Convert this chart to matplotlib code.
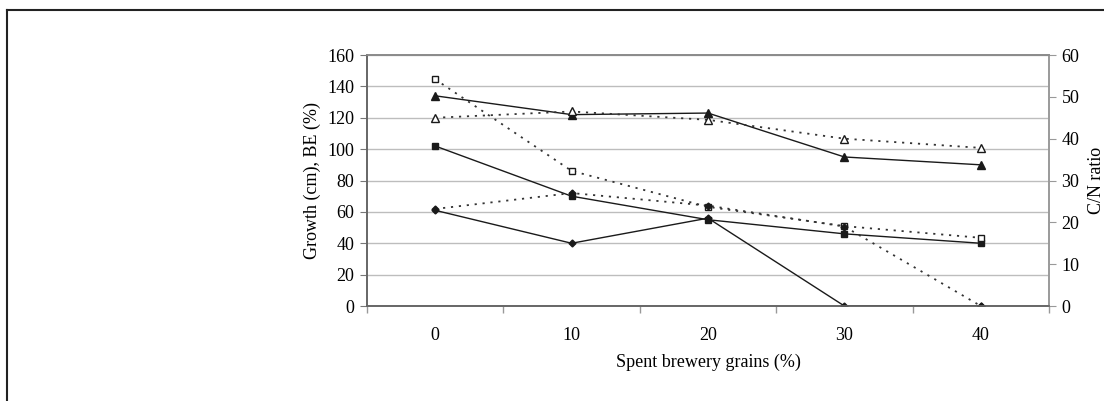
#!/usr/bin/env python3
"""Growth, BE and C/N ratio against spent brewery grains content."""

import matplotlib
matplotlib.use("Agg")
import matplotlib.pyplot as plt
from matplotlib.lines import Line2D
from matplotlib.ticker import FixedLocator, NullFormatter

plt.rcParams["font.family"] = ["Liberation Serif", "DejaVu Serif"]

grains = ["0", "10", "20", "30", "40"]

# left axis: growth (cm) and BE (%)
growth_tri = [134, 122, 123, 95, 90]
growth_sq = [102, 70, 55, 46, 40]
growth_dia = [61, 40, 56, 0, 0]

# right axis: C/N ratio
cn_tri = [45.0, 46.5, 44.5, 40.0, 37.8]
cn_sq = [54.2, 32.3, 23.7, 19.1, 16.3]
cn_dia = [23.2, 27.0, 24.0, 19.0, 0.0]

x = list(range(len(grains)))

fig = plt.figure(figsize=(11.04, 4.01), dpi=100)
ax = fig.add_axes([0.3324, 0.2369, 0.6178, 0.6259])
ax2 = ax.twinx()

grid_c = "#bdbdbd"
line_c = "#1a1a1a"
dots = (0, (1.2, 3.2))
fs = 13

ax.set_ylim(0, 160)
ax.set_yticks(range(0, 161, 20))
ax.yaxis.grid(True, color=grid_c, lw=1)
ax.set_axisbelow(True)
ax.set_xlim(-0.5, 4.5)
ax.set_xticks(x)
ax.set_xticklabels(grains)
ax.xaxis.set_minor_locator(FixedLocator([i - 0.5 for i in range(6)]))
ax.xaxis.set_minor_formatter(NullFormatter())
ax.tick_params(axis="x", which="major", length=0, pad=15, labelsize=fs)
ax.tick_params(axis="x", which="minor", length=5, color="#999999", width=1)
ax.tick_params(axis="y", length=5, color="#777777", labelsize=fs, pad=4)

ax2.set_ylim(0, 60)
ax2.set_yticks(range(0, 61, 10))
ax2.tick_params(axis="y", length=5, color="#999999", labelsize=fs, pad=4)

for a in (ax, ax2):
    a.spines["top"].set_color("#8a8a8a")
    a.spines["right"].set_color("#9a9a9a")
    a.spines["left"].set_color("#666666")
    a.spines["bottom"].set_color("#666666")
    for s in a.spines.values():
        s.set_linewidth(1.2)

ax.plot(x, growth_tri, color=line_c, lw=1, marker="^", ms=5.5, mfc=line_c, mec=line_c, zorder=3)
ax.plot(x, growth_sq, color=line_c, lw=1, marker="s", ms=5, mfc=line_c, mec=line_c, zorder=3)
ax.plot(x, growth_dia, color=line_c, lw=1, marker="D", ms=3.5, mfc=line_c, mec=line_c, zorder=3)

ax2.plot(x, cn_tri, color="#333333", lw=1.3, ls=dots, marker="^", ms=5.5, mfc="white", mec=line_c, mew=1)
ax2.plot(x, cn_sq, color="#333333", lw=1.3, ls=dots, marker="s", ms=5, mfc="white", mec=line_c, mew=1)
ax2.plot(x, cn_dia, color="#333333", lw=1.3, ls=dots, marker="D", ms=3.5, mfc=line_c, mec=line_c)

ax.set_xlabel("Spent brewery grains (%)", fontsize=fs, labelpad=7)
ax.set_ylabel("Growth (cm), BE (%)", fontsize=fs, labelpad=5)
ax2.set_ylabel("C/N ratio", fontsize=fs, labelpad=6)

# page frame
fig.add_artist(Line2D([0.0065, 1.0], [0.975, 0.975], color="#222222", lw=1.5))
fig.add_artist(Line2D([0.0065, 0.0065], [0.0, 0.975], color="#222222", lw=1.5))

fig.savefig("out.png", dpi=100)
